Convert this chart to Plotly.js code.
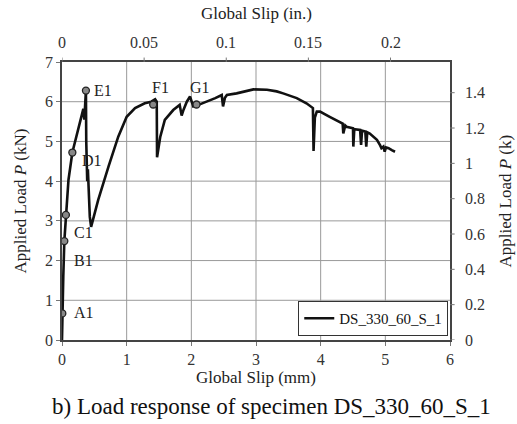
<!DOCTYPE html>
<html><head><meta charset="utf-8">
<script src="https://cdn.plot.ly/plotly-3.0.1.min.js"></script>
<style>body{margin:0;background:#fff}#c{width:517px;height:424px}</style>
</head><body><div id="c"></div>
<script>
// Load-slip curve (mm, kN)
const slipMM = [0,0.005,0.02,0.036,0.06,0.1,0.16,0.25,0.33,0.345,0.36,0.37,0.375,0.38,0.39,0.4,0.41,0.43,0.45,
  0.56,0.72,0.87,1.0,1.13,1.28,1.38,1.44,1.465,1.47,1.52,1.59,1.72,1.82,1.85,1.88,1.93,1.98,2.03,2.11,2.24,2.37,2.47,2.49,2.52,2.55,2.70,2.96,3.17,3.32,3.42,3.63,3.78,3.88,3.89,3.91,3.94,3.99,4.14,4.30,4.34,4.35,4.38,4.40,4.50,4.505,4.52,4.61,4.625,4.64,4.69,4.705,4.72,4.76,4.87,4.92,4.94,4.97,4.99,5.01,5.05,5.10,5.15];
const loadKN = [0,0.67,1.6,2.49,3.15,4.03,4.72,5.3,5.82,5.55,5.9,6.28,5.0,4.03,4.0,4.3,3.7,3.1,2.85,
  3.53,4.37,5.12,5.62,5.84,5.96,6.0,6.06,6.0,4.6,5.12,5.54,5.79,5.92,5.65,5.8,6.0,6.13,5.88,5.92,6.0,6.09,6.17,5.88,6.1,6.17,6.21,6.31,6.3,6.26,6.21,6.09,5.96,5.84,4.76,5.6,5.75,5.75,5.62,5.5,5.45,5.2,5.4,5.37,5.33,4.87,5.31,5.29,4.91,5.27,5.25,4.87,5.23,5.2,5.04,4.9,4.83,4.87,4.74,4.85,4.83,4.78,4.74];
// Marked points
const ptNames = ["A1","B1","C1","D1","E1","F1","G1"];
const ptSlip = [0.005,0.036,0.06,0.16,0.37,1.41,2.08];
const ptLoad = [0.67,2.49,3.15,4.72,6.28,5.93,5.93];
const lblX = [0.16,0.16,0.16,0.28,0.46,1.52,2.13];
const lblY = [0.68,2.0,2.7,4.53,6.27,6.35,6.35];
const lblAnchor = ["left","left","left","left","left","center","center"];
// Primary axis ticks (grid)
const gridMM = [1,2,3,4,5];
const gridKN = [1,2,3,4,5,6];
// Secondary (US unit) axes
const topTicksIn = [0,0.05,0.1,0.15,0.2];
const topTickText = ["0","0.05","0.1","0.15","0.2"];
const rightTicksK = [0,0.2,0.4,0.6,0.8,1,1.2,1.4];
const rightTickText = ["0","0.2","0.4","0.6","0.8","1","1.2","1.4"];
const MM_PER_IN = 25.4, KN_PER_KIP = 4.448;

const font = "Liberation Serif";
const traces = [
  {x: slipMM, y: loadKN, type:'scatter', mode:'lines', name:'DS_330_60_S_1',
   line:{color:'#111', width:2.6}},
  {x: ptSlip, y: ptLoad, type:'scatter', mode:'markers', showlegend:false,
   marker:{symbol:'circle', size:7, color:'#888', line:{color:'#222', width:1.3}}}
];
const annotations = ptNames.map((n,i)=>({x:lblX[i], y:lblY[i], text:n, showarrow:false,
  xanchor:lblAnchor[i], yanchor:'middle', font:{family:font, size:16, color:'#222'}}));
const tickFont = {family:font, size:16, color:'#333'};
const shapes = [];
gridMM.forEach(v=>shapes.push({type:'line', layer:'below', xref:'x', yref:'paper', x0:v, x1:v, y0:0, y1:1,
  line:{color:'#999', width:1}}));
gridKN.forEach(v=>shapes.push({type:'line', layer:'below', xref:'paper', yref:'y', x0:0, x1:1, y0:v, y1:v,
  line:{color:'#999', width:1}}));
topTicksIn.forEach((v,i)=>{
  annotations.push({x:v*MM_PER_IN, xref:'x', y:1, yref:'paper', yanchor:'bottom', yshift:9,
    text:topTickText[i], showarrow:false, font:tickFont});
  shapes.push({type:'line', xref:'x', yref:'paper', x0:v*MM_PER_IN, x1:v*MM_PER_IN, y0:1, y1:1.016,
    line:{color:'#777', width:1}});
});
rightTicksK.forEach((v,i)=>{
  annotations.push({x:1, xref:'paper', y:v*KN_PER_KIP, yref:'y', xanchor:'left', xshift:13,
    text:rightTickText[i], showarrow:false, font:tickFont});
  shapes.push({type:'line', xref:'paper', yref:'y', x0:1, x1:1.012, y0:v*KN_PER_KIP, y1:v*KN_PER_KIP,
    line:{color:'#777', width:1}});
});
const tfont = {family:font, size:17, color:'#222'};
annotations.push({xref:'paper', yref:'paper', x:0.5, y:1.176, text:'Global Slip (in.)', showarrow:false,
  xanchor:'center', yanchor:'middle', font:tfont});
annotations.push({xref:'paper', yref:'paper', x:1.143, y:0.5, text:'Applied Load <i>P</i> (k)', showarrow:false,
  textangle:-90, xanchor:'center', yanchor:'middle', font:tfont});
annotations.push({xref:'paper', yref:'paper', x:0.54, y:-0.238, text:'b) Load response of specimen DS_330_60_S_1',
  showarrow:false, xanchor:'center', yanchor:'middle', font:{family:font, size:23, color:'#111'}});
const ax = {showline:true, mirror:true, linecolor:'#444', linewidth:1.5, ticks:'outside', ticklen:4, tickcolor:'#777',
  tickfont:tickFont, zeroline:false, showgrid:false};
const layout = {
  width:517, height:424, margin:{l:62, r:67, t:62, b:84},
  paper_bgcolor:'#fff', plot_bgcolor:'#fff', font:{family:font, color:'#222'},
  xaxis: Object.assign({}, ax, {range:[0,6], dtick:1,
    title:{text:'Global Slip (mm)', font:tfont, standoff:0}}),
  yaxis: Object.assign({}, ax, {range:[0,7], dtick:1,
    title:{text:'Applied Load <i>P</i> (kN)', font:tfont, standoff:14}}),
  legend:{x:0.995, y:0.015, xanchor:'right', yanchor:'bottom', bordercolor:'#333', borderwidth:1.2,
    bgcolor:'#fff', font:{family:font, size:15, color:'#111'}, itemwidth:30, tracegroupgap:0},
  annotations: annotations, shapes: shapes,
  showlegend:true
};
Plotly.newPlot('c', traces, layout, {displayModeBar:false});
</script></body></html>
